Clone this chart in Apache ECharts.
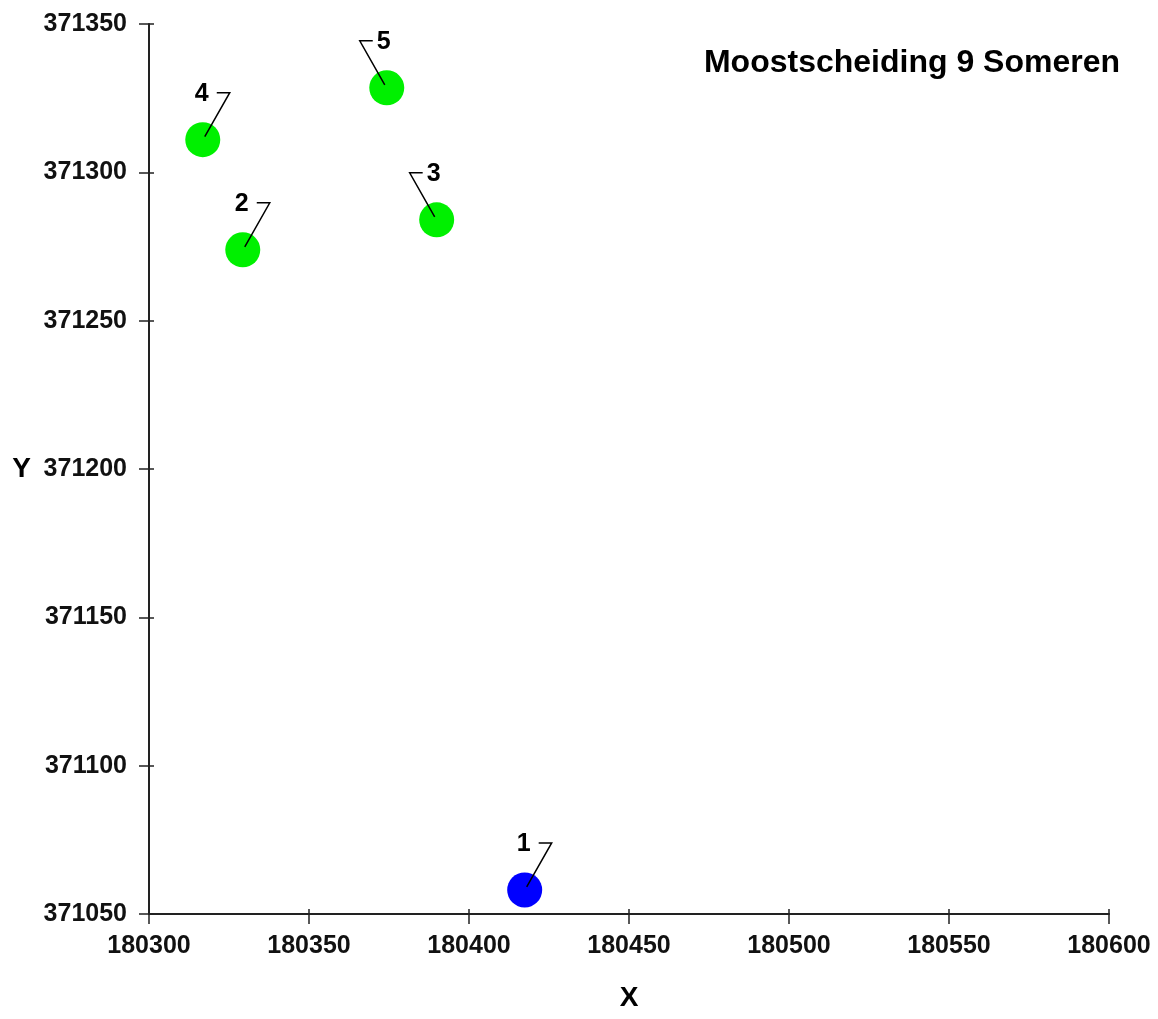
<!DOCTYPE html>
<html>
<head>
<meta charset="utf-8">
<title>Moostscheiding 9 Someren</title>
<script src="https://cdn.jsdelivr.net/npm/echarts@6/dist/echarts.min.js"></script>
<style>
  html, body { margin: 0; padding: 0; background: #fff; }
  #main { width: 1158px; height: 1019px; }
</style>
</head>
<body>
<div id="main"></div>
<script>
// meetpunten (RD coordinaten)
var pointNames = ['1', '2', '3', '4', '5'];
var xValues = [180417.4, 180329.3, 180389.9, 180316.8, 180374.3];
var yValues = [371058.1, 371273.9, 371284.0, 371311.0, 371328.5];

var xTicks = [180300, 180600, 50];
var yTicks = [371050, 371350, 50];

var FONT = '"Liberation Sans", Arial, sans-serif';
var AXIS_COLOR = '#222';
var GRID = { left: 149, right: 49, top: 24, bottom: 105 };

// punten waarvan het label naar links wijst
var leftLabels = { '3': true, '5': true };

var chart = echarts.init(document.getElementById('main'));

var points = pointNames.map(function (n, i) {
  return {
    name: n,
    value: [xValues[i], yValues[i]],
    itemStyle: { color: n === '1' ? '#0000ff' : '#00f000', opacity: 1 }
  };
});

function baseAxis(range) {
  return {
    type: 'value',
    min: range[0],
    max: range[1],
    interval: range[2],
    splitLine: { show: false },
    axisLine: { show: true, onZero: false, lineStyle: { color: AXIS_COLOR, width: 2 } },
    axisTick: { show: true, length: 10, lineStyle: { color: AXIS_COLOR, width: 1.5 } },
    axisLabel: {
      margin: 22, fontFamily: FONT, fontWeight: 'bold', fontSize: 25, color: '#111',
      formatter: function (v) { return String(v); }
    },
    nameLocation: 'middle',
    nameTextStyle: { fontFamily: FONT, fontWeight: 'bold', fontSize: 28, color: '#000' }
  };
}

// tweede as (tegenover geplaatst en terug geschoven) voor het korte deel van de kruisende streepjes
function crossAxis(range, pos, offset) {
  return {
    type: 'value',
    position: pos,
    offset: offset,
    min: range[0],
    max: range[1],
    interval: range[2],
    splitLine: { show: false },
    axisLine: { show: false },
    axisTick: { show: true, length: 5, lineStyle: { color: AXIS_COLOR, width: 1.5 } },
    axisLabel: { show: false }
  };
}

var gridH = 1019 - GRID.top - GRID.bottom;
var gridW = 1158 - GRID.left - GRID.right;

var xMain = baseAxis(xTicks);
xMain.position = 'bottom';
xMain.name = 'X';
xMain.nameGap = 70;
xMain.axisLabel.margin = 20;

var yMain = baseAxis(yTicks);
yMain.position = 'left';
yMain.name = 'Y';
yMain.nameRotate = 0;
yMain.nameGap = 118;

var option = {
  backgroundColor: '#fff',
  animation: false,
  title: {
    text: 'Moostscheiding 9 Someren',
    right: 33,
    top: 42,
    textStyle: { fontFamily: FONT, fontWeight: 'bold', fontSize: 32, color: '#000' }
  },
  grid: {
    left: GRID.left, right: GRID.right, top: GRID.top, bottom: GRID.bottom,
    containLabel: false, outerBoundsMode: 'none'
  },
  xAxis: [xMain, crossAxis(xTicks, 'top', -gridH)],
  yAxis: [yMain, crossAxis(yTicks, 'right', -gridW)],
  series: [{
    type: 'scatter',
    symbol: 'circle',
    symbolSize: 35,
    data: points,
    z: 2
  }, {
    // labels met verbindingslijn
    type: 'custom',
    data: pointNames.map(function (n, i) { return [xValues[i], yValues[i], n]; }),
    z: 3,
    silent: true,
    renderItem: function (params, api) {
      var p = api.coord([api.value(0), api.value(1)]);
      var name = pointNames[params.dataIndex];
      var dir = leftLabels[name] ? -1 : 1;
      var ex = p[0] + dir * 27, ey = p[1] - 47;
      return {
        type: 'group',
        children: [{
          type: 'polyline',
          shape: { points: [[p[0] + dir * 2, p[1] - 3], [ex, ey], [p[0] + dir * 14, ey]] },
          style: { stroke: '#000', lineWidth: 1.5, fill: null }
        }, {
          type: 'text',
          style: {
            text: name,
            x: p[0] - (leftLabels[name] ? 3 : 1),
            y: ey + 1,
            align: 'center',
            verticalAlign: 'middle',
            font: 'bold 25px ' + FONT,
            fill: '#000'
          }
        }]
      };
    }
  }]
};

chart.setOption(option);
</script>
</body>
</html>
